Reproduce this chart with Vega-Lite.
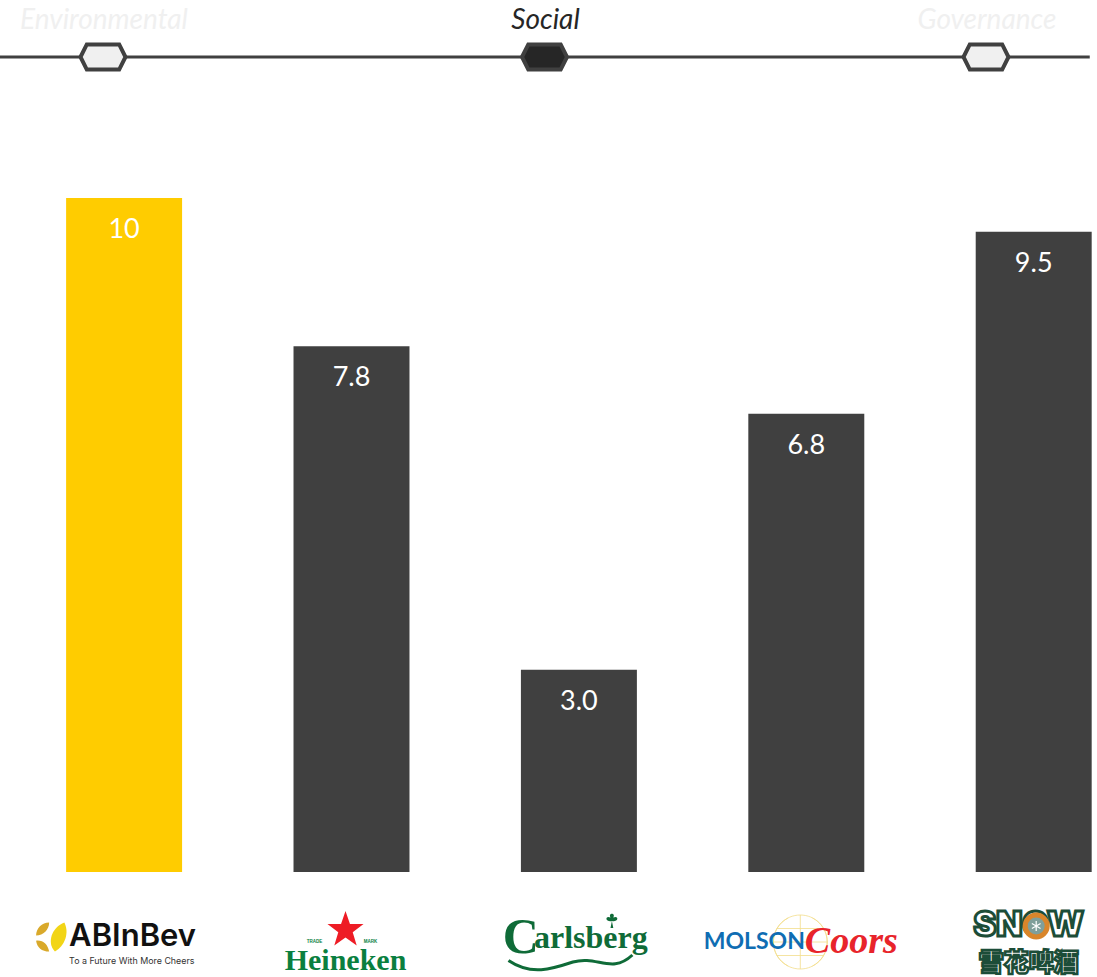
{
  "$schema": "https://vega.github.io/schema/vega-lite/v6.json",
  "width": 1097,
  "height": 977,
  "padding": 0,
  "autosize": "none",
  "background": "white",
  "config": {"view": {"stroke": null}},
  "datasets": {
    "scores": [
      {"company": "AB InBev", "score": 10, "label": "10"},
      {"company": "Heineken", "score": 7.8, "label": "7.8"},
      {"company": "Carlsberg", "score": 3.0, "label": "3.0"},
      {"company": "Molson Coors", "score": 6.8, "label": "6.8"},
      {"company": "Snow", "score": 9.5, "label": "9.5"}
    ],
    "pillars": [
      {"pillar": "Environmental", "pos": 0, "lane": "label"},
      {"pillar": "Social", "pos": 1, "lane": "label"},
      {"pillar": "Governance", "pos": 2, "lane": "label"}
    ],
    "nodes": [
      {"pillar": "Environmental", "pos": 0, "lane": "track"},
      {"pillar": "Social", "pos": 1, "lane": "track"},
      {"pillar": "Governance", "pos": 2, "lane": "track"}
    ],
    "track": [
      {"pos": -0.2333, "lane": "track"},
      {"pos": 2.235, "lane": "track"}
    ]
  },
  "resolve": {"scale": {"x": "independent", "y": "independent", "color": "independent", "fill": "independent"}},
  "layer": [
    {
      "description": "Timeline of the three ESG pillars",
      "encoding": {
        "x": {"field": "pos", "type": "quantitative", "axis": null, "scale": {"domain": [0, 2], "range": [103, 986], "nice": false, "zero": false}},
        "y": {"field": "lane", "type": "nominal", "axis": null, "scale": {"domain": ["label", "track"], "range": [21, 57], "padding": 0}}
      },
      "layer": [
        {
          "data": {"name": "track"},
          "mark": {"type": "line", "color": "#404040", "strokeWidth": 3}
        },
        {
          "data": {"name": "nodes"},
          "mark": {"type": "point", "filled": true, "opacity": 1, "size": 2025, "stroke": "#404040", "strokeWidth": 4, "shape": "M -1 0 L -0.72 -0.56 L 0.72 -0.56 L 1 0 L 0.72 0.56 L -0.72 0.56 Z"},
          "encoding": {
            "fill": {"field": "pillar", "type": "nominal", "legend": null, "scale": {"domain": ["Environmental", "Social", "Governance"], "range": ["#f0f0f0", "#262626", "#f0f0f0"]}}
          }
        },
        {
          "data": {"name": "pillars"},
          "mark": {"type": "text", "font": "Lato", "fontStyle": "italic", "fontWeight": 400, "fontSize": 28, "xOffset": 1},
          "encoding": {
            "text": {"field": "pillar"},
            "fill": {"field": "pillar", "type": "nominal", "legend": null, "scale": {"domain": ["Environmental", "Social", "Governance"], "range": ["#f0f0f0", "#262626", "#f0f0f0"]}}
          }
        }
      ]
    },
    {
      "description": "Score bars with their values",
      "data": {"name": "scores"},
      "encoding": {
        "x": {"field": "company", "type": "nominal", "sort": null, "axis": null, "scale": {"domain": ["AB InBev", "Heineken", "Carlsberg", "Molson Coors", "Snow"], "range": [10.4, 1147.4], "paddingInner": 0.49, "paddingOuter": 0.245}},
        "y": {"field": "score", "type": "quantitative", "axis": null, "scale": {"domain": [0, 10], "range": [872, 198], "nice": false}}
      },
      "layer": [
        {
          "mark": {"type": "bar"},
          "encoding": {
            "color": {"field": "company", "type": "nominal", "legend": null, "scale": {"domain": ["AB InBev", "Heineken", "Carlsberg", "Molson Coors", "Snow"], "range": ["#ffcc00", "#404040", "#404040", "#404040", "#404040"]}}
          }
        },
        {
          "mark": {"type": "text", "font": "Lato", "fontSize": 27, "color": "white", "yOffset": 32},
          "encoding": {"text": {"field": "label"}}
        }
      ]
    },
    {
      "description": "Brand wordmarks along the bottom, drawn from type and simple shapes",
      "encoding": {
        "x": {"field": "company", "type": "nominal", "sort": null, "axis": null, "scale": {"domain": ["AB InBev", "Heineken", "Carlsberg", "Molson Coors", "Snow"], "range": [10.4, 1147.4], "paddingInner": 0.49, "paddingOuter": 0.245}},
        "y": {"field": "line", "type": "nominal", "axis": null, "scale": {"domain": ["upper", "lower"], "range": [937, 961], "padding": 0}}
      },
      "layer": [
        {
          "data": {"values": [{"company": "AB InBev", "line": "upper"}]},
          "mark": {"type": "point", "filled": true, "opacity": 1, "size": 841, "xOffset": -73.5, "color": "#f2d516", "shape": "M 0.3 1 C -0.3 0.4 0.1 -0.7 0.95 -1 C 1.3 -0.3 1 0.6 0.3 1 Z"}
        },
        {
          "data": {"values": [{"company": "AB InBev", "line": "upper"}]},
          "mark": {"type": "point", "filled": true, "opacity": 1, "size": 841, "xOffset": -73.5, "color": "#d9a92b", "shape": "M -0.1 -1 C -0.6 -1 -1 -0.6 -1 -0.1 C -0.5 -0.1 -0.1 -0.5 -0.1 -1 Z M -1 0.25 C -0.5 0.2 -0.2 0.5 -0.1 1 C -0.6 1 -0.95 0.7 -1 0.25 Z"}
        },
        {
          "data": {"values": [{"company": "AB InBev", "line": "upper", "text": "ABInBev"}]},
          "mark": {"type": "text", "font": "Inter", "fontWeight": 600, "fontSize": 31, "align": "left", "xOffset": -55, "color": "#111111"},
          "encoding": {"text": {"field": "text"}}
        },
        {
          "data": {"values": [{"company": "AB InBev", "line": "lower", "text": "To a Future With More Cheers"}]},
          "mark": {"type": "text", "font": "Inter", "fontSize": 8.9, "align": "left", "xOffset": -55, "color": "#333333"},
          "encoding": {"text": {"field": "text"}}
        },
        {
          "data": {"values": [{"company": "Heineken", "line": "upper"}]},
          "mark": {"type": "point", "filled": true, "opacity": 1, "size": 1444, "xOffset": -6, "yOffset": -7, "color": "#ee1c25", "shape": "M 0 -1 L 0.235 -0.32 L 0.95 -0.31 L 0.38 0.12 L 0.59 0.81 L 0 0.4 L -0.59 0.81 L -0.38 0.12 L -0.95 -0.31 L -0.235 -0.32 Z"}
        },
        {
          "data": {"values": [{"company": "Heineken", "line": "lower", "text": "Heineken"}]},
          "mark": {"type": "text", "font": "Liberation Serif", "fontWeight": "bold", "fontSize": 30, "xOffset": -6, "yOffset": 0, "color": "#0a7f3f"},
          "encoding": {"text": {"field": "text"}}
        },
        {
          "data": {"values": [{"company": "Heineken", "line": "upper", "text": "TRADE"}]},
          "mark": {"type": "text", "font": "Liberation Sans", "fontWeight": "bold", "fontSize": 4.5, "xOffset": -37, "yOffset": 5, "color": "#0a7f3f"},
          "encoding": {"text": {"field": "text"}}
        },
        {
          "data": {"values": [{"company": "Heineken", "line": "upper", "text": "MARK"}]},
          "mark": {"type": "text", "font": "Liberation Sans", "fontWeight": "bold", "fontSize": 4.5, "xOffset": 19, "yOffset": 5, "color": "#0a7f3f"},
          "encoding": {"text": {"field": "text"}}
        },
        {
          "data": {"values": [{"company": "Carlsberg", "line": "upper", "text": "C"}]},
          "mark": {"type": "text", "font": "Liberation Serif", "fontWeight": "bold", "fontSize": 50, "xOffset": -58, "yOffset": 1, "color": "#0f6b38"},
          "encoding": {"text": {"field": "text"}}
        },
        {
          "data": {"values": [{"company": "Carlsberg", "line": "upper", "text": "arlsberg"}]},
          "mark": {"type": "text", "font": "Liberation Serif", "fontSize": 32, "fontWeight": "bold", "xOffset": 12, "yOffset": 1, "color": "#0f6b38"},
          "encoding": {"text": {"field": "text"}}
        },
        {
          "data": {"values": [{"company": "Carlsberg", "line": "lower"}]},
          "mark": {"type": "point", "filled": false, "opacity": 1, "size": 19600, "xOffset": -6, "yOffset": 1, "stroke": "#0f6b38", "strokeWidth": 3, "shape": "M -0.92 -0.02 C -0.6 0.2 -0.3 0.1 0 0 C 0.35 -0.1 0.55 0.18 0.85 -0.1"}
        },
        {
          "data": {"values": [{"company": "Carlsberg", "line": "upper"}]},
          "mark": {"type": "point", "filled": true, "opacity": 1, "size": 196, "xOffset": 33, "yOffset": -16, "color": "#0f6b38", "shape": "M 0 0 C -1 0.2 -1 -0.9 -0.2 -0.5 C -0.6 -1.2 0.6 -1.2 0.2 -0.5 C 1 -0.9 1 0.2 0 0 L 0.2 1 L -0.2 1 Z"}
        },
        {
          "data": {"values": [{"company": "Molson Coors", "line": "upper"}]},
          "mark": {"type": "point", "filled": false, "opacity": 1, "size": 2916, "xOffset": -6, "yOffset": 5, "stroke": "#f2dd8a", "strokeWidth": 0.8, "shape": "M -1 0 A 1 1 0 1 1 1 0 A 1 1 0 1 1 -1 0 Z M -0.45 -0.89 A 1 1 0 0 0 -0.45 0.89 M 0.45 -0.89 A 1 1 0 0 1 0.45 0.89 M 0 -1 L 0 1 M -0.87 -0.5 L 0.87 -0.5 M -0.87 0.5 L 0.87 0.5 M -1 0 L 1 0"}
        },
        {
          "data": {"values": [{"company": "Molson Coors", "line": "upper", "text": "MOLSON"}]},
          "mark": {"type": "text", "font": "Lato", "fontWeight": 700, "fontSize": 23, "xOffset": -52, "yOffset": 5, "color": "#0f6db3"},
          "encoding": {"text": {"field": "text"}}
        },
        {
          "data": {"values": [{"company": "Molson Coors", "line": "upper", "text": "Coors"}]},
          "mark": {"type": "text", "font": "Liberation Serif", "fontStyle": "italic", "fontWeight": "bold", "fontSize": 38, "xOffset": 45, "yOffset": 5, "color": "#e8242b"},
          "encoding": {"text": {"field": "text"}}
        },
        {
          "data": {"values": [{"company": "Snow", "line": "upper", "text": "SNOW"}]},
          "mark": {"type": "text", "font": "Inter", "fontWeight": 900, "fontSize": 34, "xOffset": -5, "yOffset": -11, "color": "white", "stroke": "#1c4d38", "strokeWidth": 3},
          "encoding": {"text": {"field": "text"}}
        },
        {
          "data": {"values": [{"company": "Snow", "line": "upper"}]},
          "mark": {"type": "point", "filled": true, "opacity": 1, "size": 484, "xOffset": 2.5, "yOffset": -11, "shape": "circle", "fill": "#7f9f9a", "stroke": "#d9862b", "strokeWidth": 5}
        },
        {
          "data": {"values": [{"company": "Snow", "line": "upper"}]},
          "mark": {"type": "point", "filled": false, "opacity": 1, "size": 100, "xOffset": 2.5, "yOffset": -11, "stroke": "white", "strokeWidth": 1.2, "shape": "M 0 -1 L 0 1 M -0.87 -0.5 L 0.87 0.5 M -0.87 0.5 L 0.87 -0.5"}
        },
        {
          "data": {"values": [{"company": "Snow", "line": "lower", "text": "雪花啤酒"}]},
          "mark": {"type": "text", "font": "Noto Sans CJK SC", "fontWeight": 900, "fontSize": 25, "xOffset": -5, "yOffset": 2, "color": "white", "stroke": "#1c4d38", "strokeWidth": 2.5},
          "encoding": {"text": {"field": "text"}}
        }
      ]
    }
  ]
}
